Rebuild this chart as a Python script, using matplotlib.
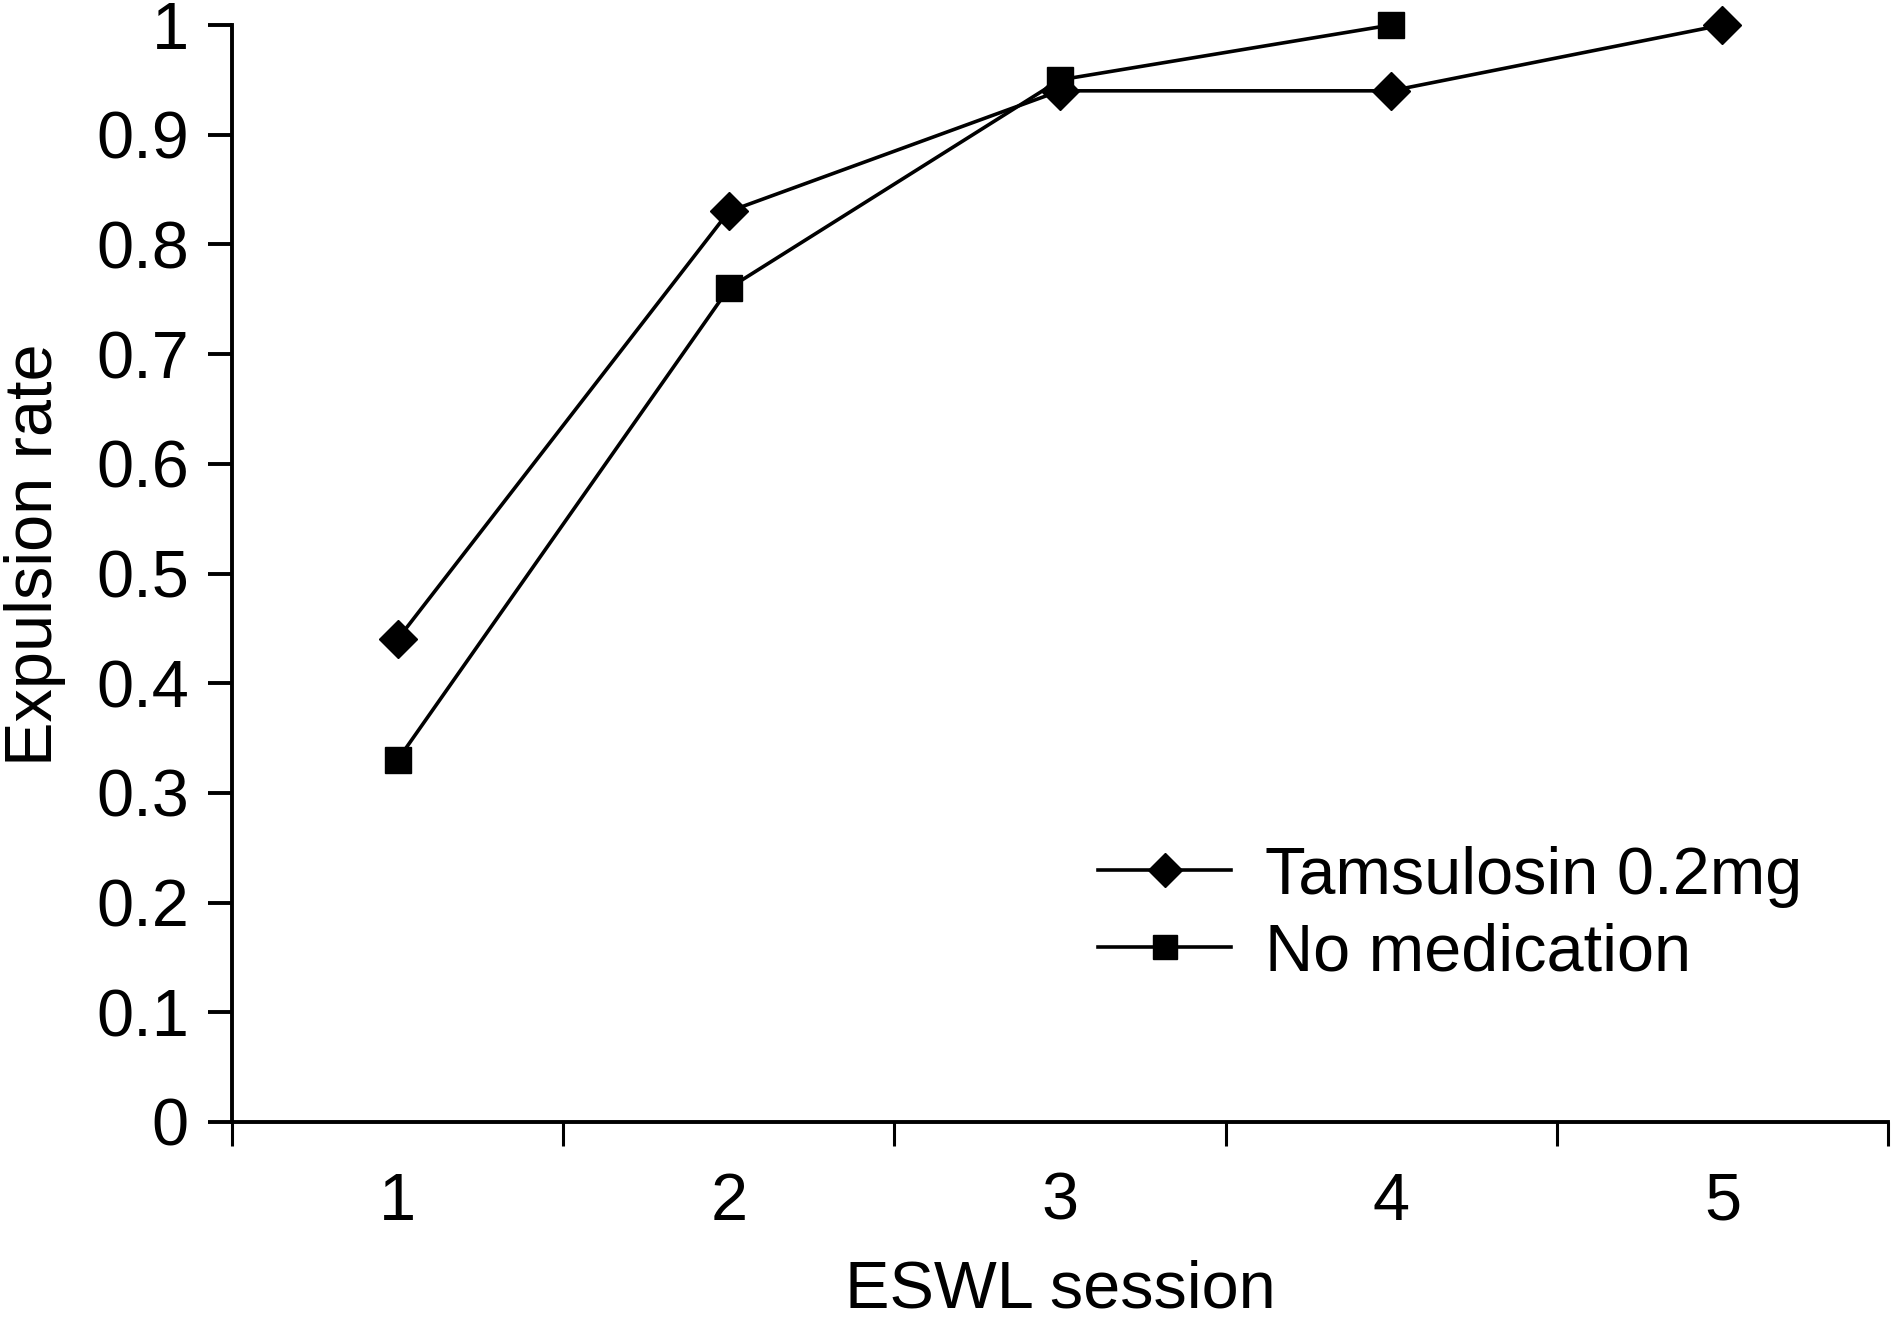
import matplotlib
matplotlib.use("Agg")
import matplotlib.pyplot as plt
import numpy as np

plt.rcParams['font.family'] = ['Liberation Sans', 'DejaVu Sans']

sessions = ["1", "2", "3", "4", "5"]
tamsulosin = [0.44, 0.83, 0.94, 0.94, 1.0]
no_medication = [0.33, 0.76, 0.95, 1.0]
y_ticks = [0, 0.1, 0.2, 0.3, 0.4, 0.5, 0.6, 0.7, 0.8, 0.9, 1]
y_ticklabels = ["0", "0.1", "0.2", "0.3", "0.4", "0.5", "0.6", "0.7", "0.8", "0.9", "1"]

W, H = 1892, 1324
fig = plt.figure(figsize=(W / 100, H / 100), dpi=100)
ax = fig.add_axes([232 / W, 1 - 1122 / H, (1888 - 232) / W, (1122 - 25) / H])

x_t = np.arange(len(tamsulosin))
x_n = np.arange(len(no_medication))
ax.plot(x_t, tamsulosin, color='black', lw=2.6, marker='D', ms=19, mfc='black',
        mec='black', label='Tamsulosin 0.2mg', clip_on=False, zorder=3)
ax.plot(x_n, no_medication, color='black', lw=2.6, marker='s', ms=19, mfc='black',
        mec='black', label='No medication', clip_on=False, zorder=3)

ax.set_xlim(-0.5, len(sessions) - 0.5)
ax.set_ylim(0, 1)
ax.set_yticks(y_ticks)
ax.set_yticklabels(y_ticklabels)
ax.set_xticks(np.arange(len(sessions) + 1) - 0.5)
ax.set_xticklabels([])
ax.set_xticks(np.arange(len(sessions)), minor=True)
ax.set_xticklabels(sessions, minor=True)

for s in ['top', 'right']:
    ax.spines[s].set_visible(False)
for s in ['left', 'bottom']:
    ax.spines[s].set_linewidth(2.8)

ax.tick_params(axis='y', which='major', length=17, width=2.8, labelsize=48, pad=14, direction='out')
ax.tick_params(axis='x', which='major', length=17, width=2.2, direction='out')
ax.tick_params(axis='x', which='minor', length=0, labelsize=48, pad=36)

fig.text(4 / W, 1 - 555 / H, "Expulsion rate", rotation=90, ha='left', va='center', fontsize=48)
fig.text(1060 / W, 2 / H, "ESWL session", ha='center', va='bottom', fontsize=48)

leg = ax.legend(loc='center left', bbox_to_anchor=(1098 / W, 1 - 915 / H),
                bbox_transform=fig.transFigure, frameon=False, fontsize=48,
                handlelength=2.0, handletextpad=0.5, labelspacing=0.22,
                borderpad=0, borderaxespad=0, markerscale=0.9)

fig.savefig("out.png", dpi=100)
